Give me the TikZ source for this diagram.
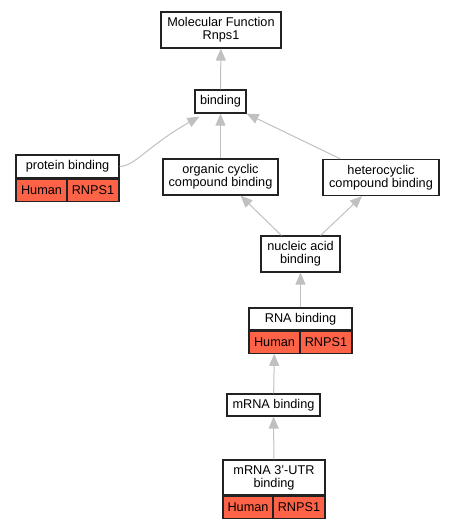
\documentclass[tikz,border=0pt]{standalone}
\usepackage{fontspec}
\setmainfont{Liberation Sans}
\usepackage{xcolor}
\usepackage{tikz}
\usetikzlibrary{arrows.meta,positioning}
\definecolor{tomato}{HTML}{FF6347}
\definecolor{edgegray}{HTML}{C0C0C0}
\definecolor{border}{HTML}{222222}

\begin{document}
\begin{tikzpicture}[
    x=1pt, y=-1pt,
    >={Triangle[length=12pt,width=10pt]},
    font=\fontsize{12.7}{12.9}\selectfont,
    term/.style={
		rectangle,
		draw=border,
		line width=1.2pt,
		fill=white,
		align=center,
		inner sep=0pt,
		minimum height=23pt
	},
	gene/.style={
		term,
		fill=tomato,
		minimum height=22pt
	},
	edge/.style={
		draw=edgegray,
		line width=1pt,
		->
	}
  ]
  \useasboundingbox (0,0) rectangle (455,528);
    % We start by placing the blocks

  \node [term, minimum width=120pt, minimum height=36pt] (mf) at (221,30) {Molecular Function\\Rnps1};
  \node [term, minimum width=51pt] (binding) at (220.5,101.5) {binding};

  \node [term, minimum width=103pt] (protein) at (67.5,166.5) {protein binding};
  \node [gene, minimum width=51pt, anchor=north west] (proteinHuman) at (protein.south west) {Human};
  \node [gene, minimum width=52pt, anchor=north east] (proteinRnps) at (protein.south east) {RNPS1};

  \node [term, minimum width=115pt, minimum height=36pt] (organic) at (220.5,177) {organic cyclic\\compound binding};
  \node [term, minimum width=116pt, minimum height=36pt] (hetero) at (381,177.5) {heterocyclic\\compound binding};
  \node [term, minimum width=79pt, minimum height=36pt] (nucleic) at (300.5,254) {nucleic acid\\binding};

  \node [term, minimum width=103pt, minimum height=22pt] (rna) at (300.5,319) {RNA binding};
  \node [gene, minimum width=51pt, anchor=north west] (rnaHuman) at (rna.south west) {Human};
  \node [gene, minimum width=52pt, anchor=north east] (rnaRnps) at (rna.south east) {RNPS1};

  \node [term, minimum width=93pt, minimum height=22pt] (mrna) at (273.5,405) {mRNA binding};

  \node [term, minimum width=102pt, minimum height=35pt] (utr) at (274,477.5) {mRNA 3'-UTR\\binding};
  \node [gene, minimum width=50pt, anchor=north west] (utrHuman) at (utr.south west) {Human};
  \node [gene, minimum width=52pt, anchor=north east] (utrRnps) at (utr.south east) {RNPS1};

 % then the is_a links
 \draw [edge] (binding) -- (mf);
 \draw [edge] (organic) -- (binding);
 \draw [edge] (protein.east) .. controls +(15,0) and +(-50,28) .. ([xshift=5pt,yshift=-3pt]binding.south west);
 \draw [edge] ([xshift=18pt]hetero.north west) -- (binding.south east);
 \draw [edge] ([xshift=21pt]nucleic.north west) -- ([xshift=20pt]organic.south);
 \draw [edge] ([xshift=-20pt]nucleic.north east) -- ([xshift=-19pt]hetero.south);
 \draw [edge] (rna) -- (nucleic);
 \draw [edge] (mrna) -- (rnaHuman);
 \draw [edge] (utr) -- (mrna);

\end{tikzpicture}
\end{document}
